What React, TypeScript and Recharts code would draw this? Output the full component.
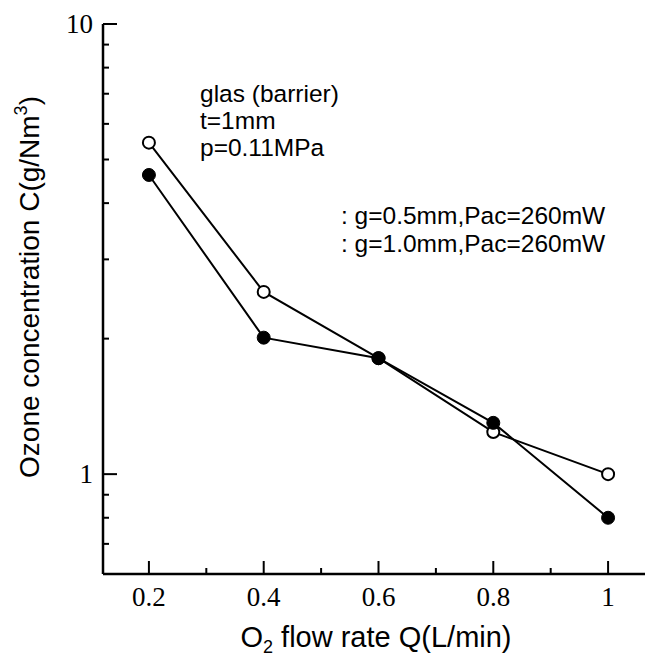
import { LineChart, Line, XAxis, YAxis, Customized } from 'recharts'

const flowRate = [0.2, 0.4, 0.6, 0.8, 1.0]
const gap05 = [5.45, 2.54, 1.81, 1.24, 1.0]
const gap10 = [4.62, 2.01, 1.81, 1.3, 0.8]
const xTicks = [0.2, 0.3, 0.4, 0.5, 0.6, 0.7, 0.8, 0.9, 1.0]
const xLabels = [0.2, 0.4, 0.6, 0.8, 1]
const yTicks = [0.7, 0.8, 0.9, 1, 2, 3, 4, 5, 6, 7, 8, 9, 10]
const yLabels = [1, 10]
const conditions = ['glas (barrier)', 't=1mm', 'p=0.11MPa']
const seriesNames = [': g=0.5mm,Pac=260mW', ': g=1.0mm,Pac=260mW']

const data = flowRate.map((q, i) => ({ q, a: gap05[i], b: gap10[i] }))

const SANS = '"Liberation Sans", Arial, sans-serif'
const SERIF = '"Liberation Serif", "Times New Roman", serif'

const isIn = (v: number, list: number[]) => list.some((l) => Math.abs(l - v) < 1e-6)

function XTick({ x, y, payload }: any) {
  const major = isIn(payload.value, xLabels)
  return (
    <g>
      <line x1={x} x2={x} y1={y} y2={y - (major ? 13 : 6)} stroke="#000" strokeWidth={2} />
      {major && (
        <text x={x} y={y + 32} textAnchor="middle" fontFamily={SERIF} fontSize={27} fill="#000">
          {String(Number(payload.value.toFixed(1)))}
        </text>
      )}
    </g>
  )
}

function TopTick({ x, y, payload }: any) {
  const major = isIn(payload.value, xLabels)
  return <line x1={x} x2={x} y1={y} y2={y + (major ? 13 : 6)} stroke="#000" strokeWidth={2} />
}

function YTick({ x, y, payload }: any) {
  const major = isIn(payload.value, yLabels)
  return (
    <g>
      <line x1={x} x2={x + (major ? 14 : 6)} y1={y} y2={y} stroke="#000" strokeWidth={2} />
      {major && (
        <text x={x - 10} y={y + 9} textAnchor="end" fontFamily={SERIF} fontSize={27} fill="#000">
          {payload.value}
        </text>
      )}
    </g>
  )
}

function OpenDot({ cx, cy }: any) {
  return <circle cx={cx} cy={cy} r={6} fill="#fff" stroke="#000" strokeWidth={2} />
}

function FilledDot({ cx, cy }: any) {
  return <circle cx={cx} cy={cy} r={6.5} fill="#000" stroke="#000" strokeWidth={1} />
}

function Annotations() {
  return (
    <g fontFamily={SANS} fill="#000">
      {conditions.map((t, i) => (
        <text key={t} x={200} y={102 + i * 27} fontSize={24.5}>
          {t}
        </text>
      ))}
      {seriesNames.map((t, i) => (
        <text key={t} x={341} y={224 + i * 28} fontSize={24.5}>
          {t}
        </text>
      ))}
      <text transform="translate(39,287) rotate(-90)" textAnchor="middle" fontSize={28}>
        Ozone concentration C(g/Nm
        <tspan fontSize={18} dy={-12}>3</tspan>
        <tspan dy={12}>)</tspan>
      </text>
      <text x={376} y={647} textAnchor="middle" fontSize={29}>
        O<tspan fontSize={18} dy={6}>2</tspan>
        <tspan dy={-6}> flow rate Q(L/min)</tspan>
      </text>
    </g>
  )
}

export default function App() {
  return (
    <div style={{ position: 'absolute', left: 0, top: 0, width: 645, height: 659, overflow: 'hidden', background: '#fff' }}>
      <LineChart width={656} height={659} data={data} margin={{ top: 24, right: 2, left: 0, bottom: 0 }}>
        <XAxis
          dataKey="q"
          type="number"
          domain={[0.12, 1.08]}
          ticks={xTicks}
          interval={0}
          allowDataOverflow
          height={85}
          tickSize={0}
          tickMargin={0}
          tickLine={false}
          axisLine={{ stroke: '#000', strokeWidth: 2.5 }}
          tick={<XTick />}
        />
        <XAxis
          xAxisId="top"
          orientation="top"
          dataKey="q"
          type="number"
          domain={[0.12, 1.08]}
          ticks={xTicks}
          interval={0}
          allowDataOverflow
          height={0}
          tickSize={0}
          tickMargin={0}
          tickLine={false}
          axisLine={{ stroke: '#000', strokeWidth: 2.5 }}
          tick={<TopTick />}
        />
        <YAxis
          type="number"
          scale="log"
          domain={[0.6, 10]}
          ticks={yTicks}
          interval={0}
          allowDataOverflow
          width={103}
          tickSize={0}
          tickMargin={0}
          tickLine={false}
          axisLine={{ stroke: '#000', strokeWidth: 2.5 }}
          tick={<YTick />}
        />
        <Line dataKey="a" stroke="#000" strokeWidth={2} dot={<OpenDot />} isAnimationActive={false} />
        <Line dataKey="b" stroke="#000" strokeWidth={2} dot={<FilledDot />} isAnimationActive={false} />
        <Customized component={Annotations} />
      </LineChart>
    </div>
  )
}
